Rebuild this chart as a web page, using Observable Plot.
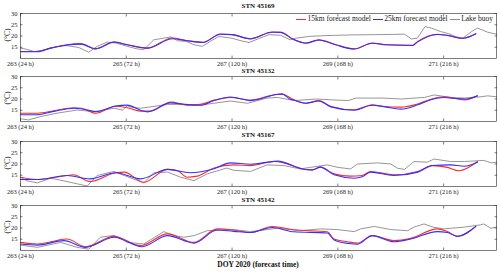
<!DOCTYPE html>
<html>
<head>
<meta charset="utf-8">
<script src="https://cdn.jsdelivr.net/npm/d3@7"></script>
<script src="https://cdn.jsdelivr.net/npm/@observablehq/plot@0.6"></script>
<style>
  html, body { margin: 0; padding: 0; background: #fff; }
  #chart { position: relative; width: 500px; height: 273px; font-family: "Liberation Serif", "DejaVu Serif", serif; overflow: hidden; }
  .panel { position: absolute; left: 0; }
  .title { position: absolute; left: 20px; width: 476px; text-align: center; font-weight: bold; font-size: 7px; line-height: 8px; color: #111; }
  .ylab { position: absolute; left: 8px; font-size: 7.5px; line-height: 8px; color: #222; transform: translate(-50%, -50%) rotate(-90deg); white-space: nowrap; }
  .xlab { position: absolute; left: 20px; width: 476px; text-align: center; font-weight: bold; font-size: 7.5px; line-height: 8px; color: #111; }
  .legend { position: absolute; top: 15px; left: 296px; display: flex; align-items: center; font-size: 7.5px; line-height: 8px; color: #222; white-space: nowrap; }
  .legend .sw { display: inline-block; width: 10px; height: 0; border-top: 1px solid; margin-right: 1.5px; }
  .legend .it { display: flex; align-items: center; margin-right: 2px; }
</style>
</head>
<body>
<div id="chart"></div>
<script>
// ---------------- DATA ----------------
const stations = ["STN 45169", "STN 45132", "STN 45167", "STN 45142"];
const seriesNames = ["15km forecast model", "25km forecast model", "Lake buoy"];
const xTicks = [263, 265, 267, 269, 271];
const xTickLabels = ["263 (24 h)", "265 (72 h)", "267 (120 h)", "269 (168 h)", "271 (216 h)"];
const yTicks = [15, 20, 25, 30];
const xLabel = "DOY 2020 (forecast time)";
const yLabel = "(\u00B0C)";

// STN 45169
const d15_45169 = [263.0,263.32,263.57,263.88,264.14,264.42,264.77,265.02,265.4,265.87,266.15,266.45,266.78,267.0,267.35,267.76,267.92,268.17,268.39,268.64,268.96,269.31,269.65,269.91,270.41,270.51,270.88,271.07,271.36,271.61];
const t15_45169 = [13.1,13.1,14.6,16.1,16.6,14.3,17.4,16.1,14.6,19.1,17.9,17.2,20.9,20.6,18.7,21.7,21.6,18.3,16.9,18.3,16.1,14.3,16.9,16.1,15.9,17.6,20.8,20.2,19.0,21.0];
const d25_45169 = [263.0,263.32,263.57,263.88,264.14,264.42,264.77,265.02,265.4,265.87,266.15,266.45,266.78,267.0,267.35,267.76,267.92,268.17,268.39,268.64,268.96,269.31,269.65,269.91,270.41,270.51,270.88,271.07,271.36,271.61];
const t25_45169 = [13.0,13.0,14.6,16.0,16.4,14.3,17.2,16.1,14.6,18.8,17.9,17.1,20.8,20.6,18.8,21.8,21.6,18.4,16.8,18.2,16.1,14.2,16.8,16.1,15.8,17.4,20.7,20.3,19.0,21.0];
const db_45169 = [263.0,263.1,263.26,263.4,263.57,263.75,263.88,264.1,264.2,264.29,264.45,264.64,264.8,265.02,265.2,265.33,265.52,265.7,265.84,265.97,266.13,266.28,266.44,266.6,266.75,267.0,267.15,267.32,267.5,267.7,267.92,268.1,268.2,268.45,268.7,268.96,269.3,269.7,270.0,270.26,270.39,270.5,270.65,270.77,270.94,271.1,271.22,271.36,271.55,271.64,271.75,271.83,272.0];
const tb_45169 = [14.6,14.2,13.1,13.6,14.6,15.5,15.7,14.9,13.8,12.8,15.4,17.3,16.9,15.4,14.3,13.9,18.3,19.0,19.6,17.9,17.6,16.1,15.4,17.8,19.8,19.0,18.0,17.1,18.8,20.6,20.3,18.3,19.0,19.8,20.1,20.3,20.5,20.6,20.7,20.8,18.7,19.0,24.2,23.5,22.0,21.0,19.8,19.0,22.3,23.5,22.5,21.7,20.8];

// STN 45132
const d15_45132 = [263.0,263.32,263.63,264.01,264.15,264.42,264.8,265.02,265.27,265.46,265.84,266.15,266.4,266.66,266.97,267.35,267.86,267.97,268.14,268.39,268.64,268.87,269.31,269.65,269.87,270.19,270.51,270.76,271.01,271.2,271.42,271.64];
const t15_45132 = [13.7,13.7,14.8,16.1,15.9,13.7,16.8,16.1,14.6,14.6,18.6,17.3,17.6,19.5,20.7,19.5,22.0,22.0,20.0,18.1,19.3,16.7,15.2,17.4,16.7,16.4,17.8,19.9,21.0,20.3,19.6,21.4];
const d25_45132 = [263.0,263.32,263.63,264.01,264.15,264.42,264.8,265.02,265.27,265.4,265.84,266.15,266.4,266.66,266.97,267.35,267.86,267.95,268.1,268.14,268.39,268.64,268.87,269.31,269.65,269.87,270.19,270.51,270.76,271.01,271.2,271.42,271.64];
const t25_45132 = [13.0,13.0,14.5,15.9,15.7,14.4,16.9,17.3,15.0,14.3,18.3,17.5,17.2,19.3,20.9,19.3,22.1,22.3,19.9,19.7,18.1,19.1,16.5,15.0,17.2,16.6,15.5,17.4,19.7,20.7,20.3,20.0,21.4];
const db_45132 = [263.0,263.15,263.38,263.69,264.07,264.39,264.77,264.93,265.02,265.1,265.27,265.49,265.78,266.15,266.4,266.97,267.29,267.66,267.86,268.17,268.6,268.9,269.2,269.34,269.87,270.19,270.64,270.82,271.14,271.39,271.71,271.83,272.0];
const tb_45132 = [11.2,10.7,12.2,13.7,15.1,14.4,15.9,15.1,17.0,16.3,15.9,16.6,17.6,17.6,17.3,19.1,18.1,20.4,20.7,19.3,20.0,19.6,19.3,20.4,20.4,20.0,20.7,21.8,20.7,20.4,21.0,21.4,21.0];

// STN 45167
const d15_45167 = [263.0,263.32,263.88,264.0,264.32,264.8,264.96,265.33,265.78,265.97,266.15,266.34,266.66,267.03,267.35,267.79,267.98,268.33,268.52,268.67,268.93,269.24,269.46,269.62,270.06,270.51,270.79,271.07,271.29,271.64];
const t15_45167 = [14.1,13.1,14.9,15.2,12.2,16.1,16.4,11.9,17.6,17.0,14.1,14.6,18.2,19.6,19.3,21.1,20.5,17.8,17.4,18.6,15.6,14.6,14.9,16.7,15.2,16.7,19.3,18.5,17.0,21.1];
const d25_45167 = [263.0,263.32,263.88,264.32,264.8,265.27,265.78,266.21,266.66,266.97,267.35,267.86,268.33,268.52,268.67,268.93,269.31,269.46,269.62,270.06,270.51,270.79,271.13,271.39,271.64];
const t25_45167 = [13.1,13.1,14.9,13.4,16.1,13.4,17.6,16.1,17.9,20.5,19.9,21.3,17.8,17.4,18.6,15.2,13.7,14.3,16.4,14.9,16.4,19.3,19.6,19.0,20.8];
const db_45167 = [263.0,263.11,263.32,263.57,263.88,264.07,264.26,264.45,264.77,264.96,265.33,265.52,265.78,266.03,266.28,266.53,266.9,267.03,267.35,267.66,267.98,268.29,268.48,268.8,269.0,269.24,269.37,269.75,270.0,270.13,270.26,270.44,270.69,270.82,271.13,271.39,271.76,271.9,272.0];
const tb_45167 = [14.1,12.6,11.6,13.7,12.2,11.2,10.2,14.9,16.7,14.9,11.6,16.1,16.4,14.1,12.6,15.6,18.2,17.2,16.7,19.6,19.3,17.8,18.5,19.6,18.5,17.8,20.0,20.5,20.0,18.1,17.6,21.1,20.8,22.2,21.1,21.1,21.6,20.5,20.8];

// STN 45142
const d15_45142 = [263.0,263.32,263.88,264.23,264.77,265.27,265.78,266.28,266.72,267.03,267.35,267.76,268.17,268.8,268.93,269.18,269.37,269.65,270.06,270.38,270.88,271.07,271.26,271.61];
const t15_45142 = [13.6,12.9,15.1,11.7,16.3,12.2,17.4,13.6,19.6,19.1,18.0,20.7,19.2,18.3,15.1,13.9,13.3,16.6,14.4,15.4,19.6,18.4,16.3,20.7];
const d25_45142 = [263.0,263.32,263.82,264.23,264.77,265.3,265.78,266.28,266.72,267.03,267.35,267.76,268.17,268.8,268.93,269.21,269.37,269.65,270.06,270.38,270.88,271.07,271.26,271.61];
const t25_45142 = [12.9,12.4,14.4,11.4,15.9,11.7,16.6,13.3,19.1,18.5,18.0,20.2,18.3,17.8,14.7,13.1,12.8,16.6,13.9,15.1,18.4,18.0,16.3,20.7];
const db_45142 = [263.0,263.32,263.76,264.07,264.29,264.51,264.77,265.02,265.33,265.71,265.9,266.09,266.28,266.53,267.03,267.35,267.86,268.29,268.67,268.99,269.31,269.43,269.69,270.0,270.32,270.44,270.63,270.8,271.0,271.39,271.7,271.76,271.89,272.0];
const tb_45142 = [12.4,11.4,13.6,11.4,10.6,15.9,16.7,13.6,12.9,18.4,16.6,15.9,16.6,18.8,19.3,18.4,19.9,18.8,19.6,19.3,18.4,19.6,20.7,19.3,18.8,20.4,21.8,20.4,19.6,20.4,21.4,21.8,19.9,20.4];

// ---------------- BUILD ----------------
const colors = ["#ff2a2a", "#3030ff", "#8a8a8a"];
const panelTops = [12.5, 75.5, 140.7, 204.7];
const titleCenters = [5.5, 70.5, 135.3, 199.8];
const panelInner = 45;
const mTop = 12, mBottom = 7;

const series = [
  [[d15_45169, t15_45169], [d25_45169, t25_45169], [db_45169, tb_45169]],
  [[d15_45132, t15_45132], [d25_45132, t25_45132], [db_45132, tb_45132]],
  [[d15_45167, t15_45167], [d25_45167, t25_45167], [db_45167, tb_45167]],
  [[d15_45142, t15_45142], [d25_45142, t25_45142], [db_45142, tb_45142]]
];

const toRows = ([d, t]) => d.map((x, i) => ({x, y: t[i]}));
const root = document.getElementById("chart");
const axisColor = "#262626";

stations.forEach((name, k) => {
  const [s15, s25, sb] = series[k].map(toRows);
  const plot = Plot.plot({
    width: 500,
    height: mTop + panelInner + mBottom,
    marginTop: mTop,
    marginBottom: mBottom,
    marginLeft: 20,
    marginRight: 4,
    x: {domain: [263, 272]},
    y: {domain: [10, 30]},
    style: {fontFamily: "'Liberation Serif', serif", fontSize: "6.5px", color: axisColor, overflow: "visible", background: "transparent"},
    marks: [
      Plot.line(sb, {x: "x", y: "y", stroke: colors[2], strokeWidth: 0.9}),
      Plot.line(s15, {x: "x", y: "y", stroke: colors[0], strokeWidth: 1.1, curve: "monotone-x"}),
      Plot.line(s25, {x: "x", y: "y", stroke: colors[1], strokeWidth: 1.1, curve: "monotone-x"}),
      Plot.frame({stroke: axisColor, strokeWidth: 0.6}),
      Plot.axisX({anchor: "bottom", ticks: xTicks, tickSize: -2.5, tickPadding: 5, strokeWidth: 0.6,
                  tickFormat: (d) => xTickLabels[xTicks.indexOf(d)], label: null}),
      Plot.axisX({anchor: "top", ticks: xTicks, tickSize: -2.5, strokeWidth: 0.6, tickFormat: () => "", label: null}),
      Plot.axisY({anchor: "left", ticks: yTicks, tickSize: -2.5, tickPadding: 5.5, strokeWidth: 0.6, label: null}),
      Plot.axisY({anchor: "right", ticks: yTicks, tickSize: -2.5, strokeWidth: 0.6, tickFormat: () => "", label: null})
    ]
  });
  plot.classList.add("panel");
  plot.style.top = (panelTops[k] - mTop) + "px";
  root.appendChild(plot);

  const t = document.createElement("div");
  t.className = "title";
  t.textContent = name;
  t.style.top = (titleCenters[k] - 4) + "px";
  root.appendChild(t);

  const yl = document.createElement("div");
  yl.className = "ylab";
  yl.textContent = yLabel;
  yl.style.top = (panelTops[k] + panelInner / 2) + "px";
  root.appendChild(yl);
});

const xl = document.createElement("div");
xl.className = "xlab";
xl.textContent = xLabel;
xl.style.top = "260.5px";
root.appendChild(xl);

const leg = document.createElement("div");
leg.className = "legend";
seriesNames.forEach((n, i) => {
  const it = document.createElement("span");
  it.className = "it";
  const sw = document.createElement("span");
  sw.className = "sw";
  sw.style.borderTopColor = colors[i];
  it.appendChild(sw);
  const tx = document.createElement("span");
  tx.textContent = n;
  it.appendChild(tx);
  leg.appendChild(it);
});
root.appendChild(leg);
</script>
</body>
</html>
